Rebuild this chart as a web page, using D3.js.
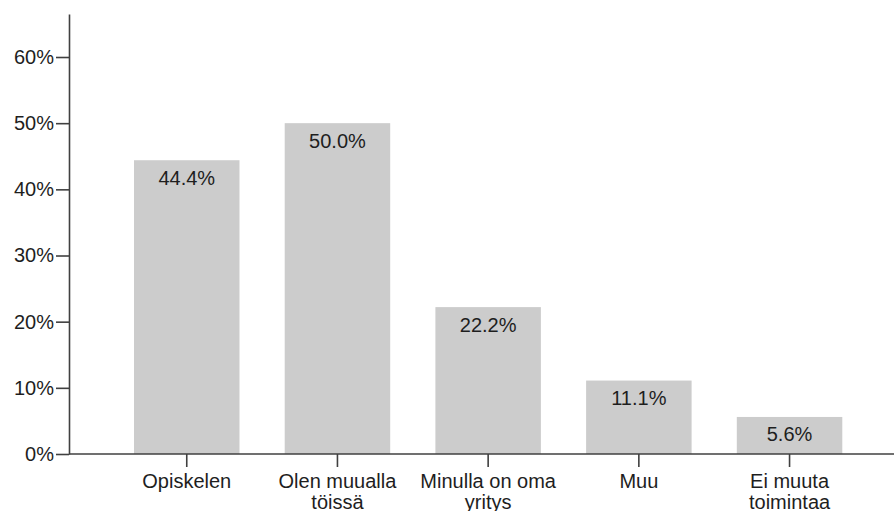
<!DOCTYPE html>
<html>
<head>
<meta charset="utf-8">
<script src="https://cdn.jsdelivr.net/npm/d3@7/dist/d3.min.js"></script>
<style>
  html, body { margin: 0; padding: 0; background: #ffffff; }
  svg { display: block; }
  text { font-family: "Liberation Sans", Arial, sans-serif; }
</style>
</head>
<body>
<svg id="chart" width="894" height="511"></svg>
<script>
// Categories, shares (percent) and the wrapped category labels
const categories = ["Opiskelen", "Olen muualla töissä", "Minulla on oma yritys", "Muu", "Ei muuta toimintaa"];
const percents = [44.4, 50.0, 22.2, 11.1, 5.6];
const categoryLabels = [["Opiskelen"], ["Olen muualla", "töissä"], ["Minulla on oma", "yritys"], ["Muu"], ["Ei muuta", "toimintaa"]];
const yTicks = [0, 10, 20, 30, 40, 50, 60];

const svg = d3.select("#chart");
const fontSize = 20;
const axisColor = "#404040";
const textColor = "#1e1e1e";

const x = d3.scaleBand()
  .domain(categories)
  .range([111.4, 864.9])
  .paddingInner(0.3)
  .paddingOuter(0.15);

const y = d3.scaleLinear()
  .domain([0, 66.5])
  .range([454, 14]);

// Bars
svg.append("g")
  .selectAll("rect")
  .data(categories)
  .join("rect")
  .attr("x", d => x(d))
  .attr("y", (d, i) => y(percents[i]))
  .attr("width", x.bandwidth())
  .attr("height", (d, i) => y(0) - y(percents[i]))
  .attr("fill", "#cccccc");

// Value labels inside the top of each bar
svg.append("g")
  .selectAll("text")
  .data(categories)
  .join("text")
  .attr("x", d => x(d) + x.bandwidth() / 2)
  .attr("y", (d, i) => y(percents[i]) + 24.5)
  .attr("text-anchor", "middle")
  .attr("font-size", fontSize)
  .attr("fill", textColor)
  .text((d, i) => percents[i].toFixed(1) + "%");

// Y axis
const yAxis = svg.append("g")
  .attr("transform", "translate(69,0)")
  .call(d3.axisLeft(y)
    .tickValues(yTicks)
    .tickFormat(d => d + "%")
    .tickSize(13)
    .tickPadding(2)
    .tickSizeOuter(0));
yAxis.select(".domain").attr("stroke", axisColor).attr("stroke-width", 1.6);
yAxis.selectAll(".tick line").attr("stroke", axisColor).attr("stroke-width", 1.6);
yAxis.selectAll(".tick text")
  .attr("font-size", fontSize)
  .attr("font-family", "Liberation Sans, Arial, sans-serif")
  .attr("fill", textColor);

// X axis, extended to the right edge
svg.append("line")
  .attr("x1", 69).attr("x2", 894)
  .attr("y1", y(0)).attr("y2", y(0))
  .attr("stroke", axisColor).attr("stroke-width", 1.6);

const xAxis = svg.append("g")
  .attr("transform", `translate(0,${y(0)})`)
  .call(d3.axisBottom(x).tickSize(13).tickSizeOuter(0));
xAxis.select(".domain").remove();
xAxis.selectAll(".tick line").attr("stroke", axisColor).attr("stroke-width", 1.6);
xAxis.selectAll(".tick text").remove();

xAxis.selectAll(".tick")
  .append("text")
  .attr("text-anchor", "middle")
  .attr("font-size", fontSize)
  .attr("font-family", "Liberation Sans, Arial, sans-serif")
  .attr("fill", textColor)
  .each(function(d, i) {
    const t = d3.select(this);
    categoryLabels[i].forEach((line, j) => {
      t.append("tspan")
        .attr("x", 0)
        .attr("y", 34 + j * 20.5)
        .text(line);
    });
  });
</script>
</body>
</html>
